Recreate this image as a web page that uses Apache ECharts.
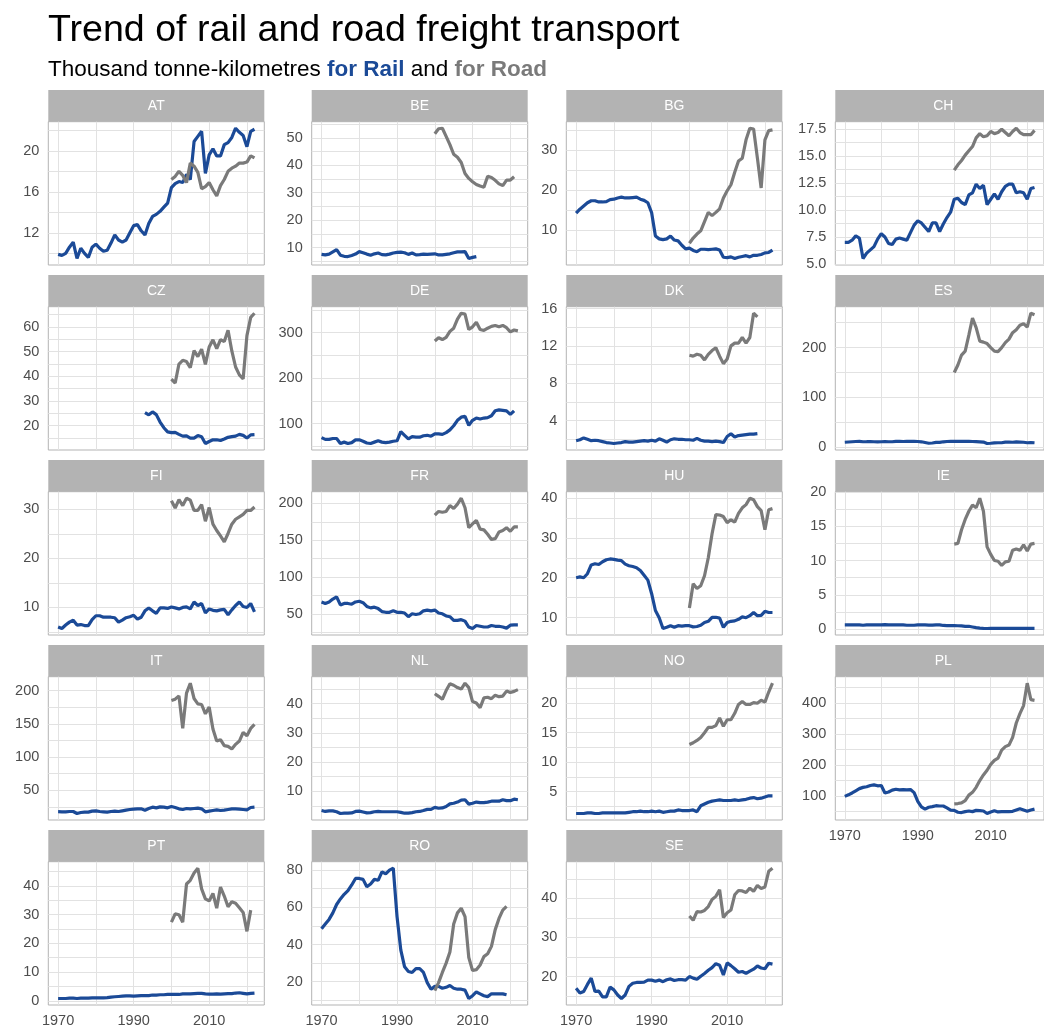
<!DOCTYPE html>
<html>
<head>
<meta charset="utf-8">
<script src="https://cdn.jsdelivr.net/npm/echarts@6/dist/echarts.min.js"></script>
<style>
  html, body { margin: 0; padding: 0; background: #fff; }
  #chart { width: 1044px; height: 1028px; }
</style>
</head>
<body>
<div id="chart"></div>
<script>
// country codes, in facet order
const countries = ["AT", "BE", "BG", "CH", "CZ", "DE", "DK", "ES", "FI", "FR",
  "HU", "IE", "IT", "NL", "NO", "PL", "PT", "RO", "SE"];

// first year of each series (rail from 1970 unless listed, road from 2000)
const railFirstYear = { CZ: 1993 };
const roadFirstYear = 2000;

// rail freight, thousand tonne-km (one value per year)
const railAT = [9.9, 9.8, 10.0, 10.6, 11.1, 9.5, 10.5, 10.0, 9.6, 10.6,
  10.9, 10.5, 10.2, 10.3, 11.0, 11.8, 11.3, 11.1, 11.3, 12.0,
  12.7, 12.8, 12.2, 11.8, 12.9, 13.6, 13.8, 14.1, 14.5, 14.9,
  16.4, 16.8, 17.0, 16.9, 17.7, 17.2, 20.9, 21.4, 21.9, 17.8,
  19.6, 20.2, 19.5, 19.5, 20.6, 20.8, 21.3, 22.2, 21.8, 21.5,
  20.4, 21.9, 22.1];
const railBE = [7.5, 7.3, 7.6, 8.4, 9.2, 7.2, 6.8, 6.7, 7.1, 7.6,
  8.5, 8.1, 7.6, 7.2, 7.7, 8.0, 7.4, 7.3, 7.6, 8.0,
  8.2, 8.3, 8.1, 7.5, 8.0, 7.3, 7.4, 7.6, 7.5, 7.6,
  7.7, 7.3, 7.3, 7.5, 7.7, 8.1, 8.4, 8.4, 8.5, 6.0,
  6.4, 6.7];
const railBG = [14.2, 15.2, 16.0, 16.8, 17.3, 17.3, 17.0, 17.0, 17.1, 17.6,
  17.7, 18.0, 18.2, 18.0, 18.0, 18.1, 18.2, 17.7, 17.4, 16.8,
  14.3, 8.5, 7.8, 7.6, 7.8, 8.5, 7.5, 7.3, 6.2, 5.3,
  5.5, 4.9, 4.6, 5.2, 5.2, 5.1, 5.2, 5.3, 5.0, 3.2,
  3.1, 3.3, 2.9, 3.2, 3.4, 3.6, 3.3, 3.7, 3.7, 3.9,
  4.3, 4.4, 5.0];
const railCH = [7.0, 7.0, 7.2, 7.6, 7.4, 5.5, 6.0, 6.3, 6.6, 7.3,
  7.8, 7.5, 6.9, 6.8, 7.3, 7.4, 7.3, 7.2, 7.9, 8.6,
  9.0, 8.8, 8.4, 8.0, 8.8, 8.8, 8.0, 8.7, 9.3, 9.8,
  11.0, 11.1, 10.7, 10.5, 11.4, 11.6, 12.4, 12.0, 12.3, 10.5,
  11.0, 11.5, 11.0, 11.7, 12.2, 12.4, 12.4, 11.6, 11.7, 11.6,
  11.0, 12.0, 12.1];
const railCZ = [25.3, 24.4, 25.6, 24.5, 21.5, 19.2, 17.5,
  17.2, 17.3, 16.5, 15.8, 15.9, 15.0, 15.0, 16.0, 15.5, 12.8,
  13.6, 14.3, 14.3, 14.0, 14.6, 15.3, 15.6, 15.8, 16.5, 16.1,
  15.0, 16.3, 16.4];
const railDE = [69, 65, 65, 67, 67, 56, 59, 56, 58, 64,
  64, 61, 57, 56, 59, 62, 59, 58, 59, 61,
  62, 82, 74, 66, 71, 70, 70, 73, 74, 72,
  77, 77, 76, 80, 86, 95, 107, 114, 116, 96,
  107, 112, 110, 112, 113, 117, 128, 130, 129, 128,
  120, 128];
const railDK = [1.85, 1.95, 2.15, 2.0, 1.85, 1.9, 1.85, 1.75, 1.65, 1.6,
  1.55, 1.6, 1.65, 1.75, 1.7, 1.7, 1.75, 1.8, 1.85, 1.8,
  1.9, 1.8, 2.05, 1.9, 1.7, 1.95, 2.05, 2.0, 2.0, 1.95,
  1.95, 1.9, 2.1, 1.9, 1.8, 1.8, 1.75, 1.8, 1.75, 1.65,
  2.3, 2.6, 2.25, 2.4, 2.45, 2.5, 2.55, 2.55, 2.6];
const railES = [10.0, 10.5, 11.0, 11.5, 11.7, 11.0, 11.2, 11.5, 11.0, 10.8,
  11.0, 11.5, 11.0, 11.0, 11.8, 11.9, 11.5, 11.8, 11.8, 11.8,
  11.5, 10.9, 9.5, 8.0, 8.5, 9.6, 9.6, 10.9, 11.5, 11.7,
  11.9, 12.0, 11.9, 12.0, 11.9, 11.5, 11.3, 10.8, 10.3, 7.5,
  8.0, 8.9, 9.0, 9.0, 10.3, 10.3, 10.0, 10.6, 10.4, 10.0,
  9.0, 9.5, 9.0];
const railFI = [6.0, 5.7, 6.4, 7.0, 7.4, 6.4, 6.5, 6.3, 6.3, 7.5,
  8.3, 8.3, 8.0, 8.0, 8.0, 7.9, 7.0, 7.4, 7.9, 8.1,
  8.4, 7.6, 8.0, 9.3, 9.9, 9.3, 8.8, 9.9, 9.9, 9.8,
  10.1, 9.9, 9.7, 10.0, 10.1, 9.7, 11.1, 10.4, 10.8, 8.9,
  9.7, 9.4, 9.3, 9.5, 9.6, 8.5, 9.5, 10.4, 11.1, 10.2,
  10.0, 10.8, 9.1];
const railFR = [66, 64, 66, 70, 73, 62, 64, 64, 63, 66,
  67, 65, 60, 58, 59, 57, 53, 52, 52, 54,
  52, 52, 51, 46, 50, 49, 50, 54, 55, 54,
  55, 51, 50, 47, 46, 41, 41, 42, 40, 32,
  30, 34, 33, 32, 32, 34, 33, 33, 32, 30.5,
  34.5, 35, 35];
const railHU = [20.0, 20.2, 20.0, 21.0, 23.2, 23.5, 23.3, 24.0, 24.5, 24.7,
  24.6, 24.4, 24.3, 23.4, 23.0, 22.8, 22.5, 21.8, 20.6, 19.4,
  16.0, 11.8, 10.0, 7.3, 7.6, 8.0, 7.6, 8.0, 7.9, 8.0,
  8.0, 7.7, 7.8, 8.1, 8.8, 9.1, 10.1, 10.1, 9.9, 7.6,
  8.8, 9.1, 9.2, 9.6, 10.2, 10.0, 10.5, 11.3, 10.5, 10.6,
  11.6, 11.3, 11.3];
const railIE = [0.6, 0.6, 0.6, 0.6, 0.6, 0.55, 0.6, 0.6, 0.6, 0.6,
  0.6, 0.65, 0.6, 0.6, 0.6, 0.6, 0.6, 0.55, 0.55, 0.55,
  0.6, 0.6, 0.6, 0.58, 0.57, 0.6, 0.6, 0.52, 0.5, 0.5,
  0.5, 0.48, 0.45, 0.4, 0.4, 0.3, 0.2, 0.13, 0.1, 0.08,
  0.1, 0.09, 0.09, 0.1, 0.1, 0.1, 0.1, 0.1, 0.1, 0.1,
  0.1, 0.1, 0.1];
const railIT = [17.7, 17.5, 17.5, 18.0, 18.0, 15.0, 16.5, 17.0, 17.0, 18.5,
  19.0, 18.0, 17.5, 17.0, 18.0, 18.5, 18.0, 19.0, 20.0, 21.0,
  21.5, 22.0, 22.0, 20.0, 22.5, 24.5, 23.5, 25.0, 24.5, 23.5,
  25.5, 24.0, 22.0, 21.0, 22.5, 22.0, 22.5, 23.0, 22.0, 17.5,
  18.5, 19.5, 20.5, 19.5, 20.0, 21.0, 22.0, 22.0, 21.5, 21.0,
  20.5, 24.0, 24.5];
const railNL = [3.4, 3.1, 3.3, 3.3, 3.0, 2.4, 2.5, 2.5, 2.6, 3.1,
  3.2, 2.9, 2.6, 2.7, 3.0, 3.1, 3.0, 3.0, 3.0, 3.0,
  3.0, 2.8, 2.5, 2.5, 2.7, 3.0, 3.1, 3.4, 3.8, 3.8,
  4.5, 4.2, 4.3, 4.8, 5.7, 5.9, 6.3, 7.0, 7.1, 5.6,
  5.9, 6.3, 6.1, 6.1, 6.3, 6.6, 6.6, 6.6, 7.1, 6.8,
  6.8, 7.3, 7.1];
const railNO = [1.3, 1.3, 1.3, 1.4, 1.4, 1.3, 1.3, 1.4, 1.4, 1.4,
  1.4, 1.4, 1.4, 1.4, 1.5, 1.6, 1.6, 1.7, 1.6, 1.6,
  1.7, 1.6, 1.7, 1.5, 1.6, 1.7, 1.7, 1.9, 1.8, 1.8,
  1.8, 1.9, 1.6, 2.6, 2.9, 3.2, 3.4, 3.5, 3.6, 3.5,
  3.5, 3.5, 3.6, 3.5, 3.6, 3.7, 3.9, 4.0, 3.8, 3.9,
  4.1, 4.3, 4.3];
const railPL = [99, 104, 110, 117, 124, 128, 130, 134, 136, 133,
  134, 110, 113, 119, 122, 120, 121, 120, 121, 111,
  83, 65, 58, 64, 66, 69, 68, 68, 62, 55,
  54, 48, 47, 50, 52, 50, 54, 53, 52, 44,
  49, 53, 49, 50, 50, 50, 51, 55, 59, 55,
  51, 55, 58];
const railPT = [0.8, 0.8, 0.8, 0.9, 0.9, 0.8, 0.9, 0.9, 0.9, 1.0,
  1.0, 1.0, 1.0, 1.1, 1.3, 1.4, 1.5, 1.6, 1.7, 1.7,
  1.6, 1.7, 1.8, 1.8, 1.8, 2.0, 2.0, 2.1, 2.1, 2.2,
  2.2, 2.2, 2.2, 2.4, 2.4, 2.4, 2.5, 2.6, 2.6, 2.4,
  2.3, 2.3, 2.4, 2.3, 2.4, 2.5, 2.5, 2.7, 2.8, 2.6,
  2.4, 2.6, 2.7];
const railRO = [48.5, 51, 53.5, 57, 61.5, 64.5, 67, 69, 72, 75.5,
  75.5, 75, 71, 72.5, 75, 74.5, 79, 78, 80, 81,
  55, 37, 28, 25.5, 25, 27, 27, 25, 19.5, 16,
  17.5, 17.5, 16.5, 17, 18, 16.5, 16, 16, 15.5, 11,
  12.5, 14.5, 13.5, 12.5, 12, 13.5, 13.5, 13.5, 13.5, 13];
const railSE = [17.0, 15.8, 16.2, 18.0, 19.6, 16.2, 16.3, 14.8, 14.8, 17.3,
  16.6, 15.3, 14.4, 15.3, 17.5, 18.3, 18.5, 18.5, 18.6, 19.1,
  19.1, 18.8, 19.1, 18.7, 19.2, 19.4, 19.0, 19.2, 19.2, 19.1,
  20.0, 19.6, 19.3, 20.1, 20.8, 21.6, 22.3, 23.3, 22.9, 20.4,
  23.5, 22.8, 22.0, 21.1, 21.3, 20.8, 21.4, 21.9, 22.7, 22.2,
  22.0, 23.4, 23.2];

// road freight, thousand tonne-km, from 2000
const roadAT = [17.2, 17.5, 18.0, 17.6, 16.9, 18.8, 18.5, 17.9, 16.3, 16.5,
  16.9, 16.2, 15.6, 16.6, 17.2, 18.0, 18.3, 18.5, 18.8, 18.8, 18.9, 19.5, 19.3];
const roadBE = [51.5, 53.3, 53.5, 50.5, 47.5, 44.0, 42.9, 41.0, 37.0, 35.2,
  34.0, 33.0, 32.4, 32.0, 36.0, 35.5, 34.5, 33.2, 32.6, 34.6, 34.6, 35.8];
const roadBG = [6.7, 8.0, 9.0, 9.8, 12.1, 14.4, 13.6, 14.4, 15.3, 18.0,
  19.8, 21.3, 24.4, 27.2, 27.9, 32.5, 35.4, 35.2, 28.0, 20.5, 32.5, 34.8, 35.0];
const roadCH = [13.7, 14.2, 14.6, 15.1, 15.5, 15.9, 16.7, 17.1, 16.8, 16.9,
  17.3, 17.1, 17.2, 17.5, 17.2, 16.9, 17.3, 17.6, 17.2, 17.0, 17.0, 17.0, 17.4];
const roadCZ = [38.9, 37.3, 45.0, 46.5, 46.0, 43.5, 50.4, 48.0, 51.0, 44.9,
  51.9, 54.8, 51.2, 54.9, 54.1, 58.7, 50.3, 43.8, 40.6, 39.0, 56.5, 63.9, 65.6];
const roadDE = [282, 289, 285, 290, 303, 310, 330, 343, 341, 307,
  313, 323, 307, 305, 310, 314, 316, 313, 316, 311, 302, 306, 304];
const roadDK = [11.0, 10.9, 11.1, 11.0, 10.5, 11.1, 11.5, 11.8, 10.9, 10.1,
  10.6, 12.0, 12.3, 12.3, 12.9, 12.3, 12.9, 15.5, 15.1];
const roadES = [150, 165, 185, 193, 225, 259, 240, 213, 211, 208,
  200, 193, 192, 200, 210, 217, 230, 236, 245, 248, 241, 269, 266];
const roadFI = [31.8, 30.3, 32.0, 30.8, 32.3, 31.9, 29.8, 29.8, 31.0, 27.6,
  30.4, 27.0, 25.7, 24.6, 23.4, 25.1, 27.0, 28.0, 28.5, 29.0, 29.8, 29.8, 30.5];
const roadFR = [184, 189, 188, 189, 197, 193, 199, 207, 194, 167,
  172, 177, 165, 164, 158, 151, 152, 161, 163, 167, 162, 168, 168];
const roadHU = [12.4, 18.5, 17.3, 18.0, 20.5, 25.0, 31.0, 35.8, 35.7, 35.3,
  33.8, 34.5, 33.9, 36.1, 37.5, 38.3, 39.9, 39.5, 37.8, 36.8, 32.0, 37.0, 37.3];
const roadIE = [12.4, 12.5, 14.5, 16.0, 17.2, 18.1, 17.7, 19.1, 17.2, 12.0,
  10.9, 10.0, 9.9, 9.3, 9.8, 9.9, 11.5, 11.7, 11.5, 12.3, 11.4, 12.4, 12.5];
const roadIT = [185, 187, 192, 143, 196, 211, 188, 180, 179, 165,
  175, 142, 124, 126, 117, 116, 112, 119, 124, 137, 132, 143, 149];
const roadNL = [43.4, 42.5, 41.5, 44.5, 46.8, 46.3, 45.5, 45.0, 47.0, 45.5,
  40.7, 40.2, 38.6, 42.0, 42.2, 41.7, 42.9, 42.4, 42.6, 44.3, 43.8, 44.2, 44.8];
const roadNO = [13.0, 13.3, 13.7, 14.2, 15.0, 15.9, 15.9, 16.2, 17.5, 16.1,
  17.2, 17.2, 18.3, 19.8, 20.3, 19.8, 19.8, 20.1, 20.0, 20.5, 20.2, 21.9, 23.4];
const roadPL = [75, 76, 78, 85, 103, 112, 128, 150, 168, 183,
  202, 215, 222, 248, 259, 264, 289, 335, 365, 391, 463, 410, 408];
const roadPT = [27.4, 30.3, 30.0, 27.4, 40.7, 42.0, 44.5, 46.2, 39.0, 35.5,
  34.8, 37.4, 32.3, 39.6, 36.5, 32.8, 34.5, 34.0, 32.4, 30.8, 24.2, 31.6];
const roadRO = [15.2, 19.5, 25, 30, 36, 51, 57, 59.5, 55, 33,
  26, 26.5, 29, 33.5, 35, 39, 48, 54, 58.5, 60.5];
const roadSE = [35.5, 34.4, 36.6, 36.5, 36.9, 37.9, 39.7, 40.5, 42.2, 35.1,
  36.3, 37.0, 40.9, 42.0, 41.9, 41.5, 42.6, 41.8, 43.3, 42.5, 42.9, 46.9, 47.7];

// y tick labels of each panel
const yTicks = {
  AT: [12, 16, 20], BE: [10, 20, 30, 40, 50], BG: [10, 20, 30],
  CH: [5, 7.5, 10, 12.5, 15, 17.5], CZ: [20, 30, 40, 50, 60], DE: [100, 200, 300],
  DK: [4, 8, 12, 16], ES: [0, 100, 200], FI: [10, 20, 30], FR: [50, 100, 150, 200],
  HU: [10, 20, 30, 40], IE: [0, 5, 10, 15, 20], IT: [50, 100, 150, 200],
  NL: [10, 20, 30, 40], NO: [5, 10, 15, 20], PL: [100, 200, 300, 400],
  PT: [0, 10, 20, 30, 40], RO: [20, 40, 60, 80], SE: [20, 30, 40]
};
// x tick labels (shared axis)
const xTicks = [1970, 1990, 2010];
const xMinorTicks = [1980, 2000, 2020];

const railData = { AT: railAT, BE: railBE, BG: railBG, CH: railCH, CZ: railCZ, DE: railDE,
  DK: railDK, ES: railES, FI: railFI, FR: railFR, HU: railHU, IE: railIE, IT: railIT,
  NL: railNL, NO: railNO, PL: railPL, PT: railPT, RO: railRO, SE: railSE };
const roadData = { AT: roadAT, BE: roadBE, BG: roadBG, CH: roadCH, CZ: roadCZ, DE: roadDE,
  DK: roadDK, ES: roadES, FI: roadFI, FR: roadFR, HU: roadHU, IE: roadIE, IT: roadIT,
  NL: roadNL, NO: roadNO, PL: roadPL, PT: roadPT, RO: roadRO, SE: roadSE };

const FONT = '"Liberation Sans", Arial, Helvetica, sans-serif';
const RAIL_COLOR = "#1B4A97";
const ROAD_COLOR = "#7A7A7A";
const GRID_COLOR = "#E2E2E2";
const STRIP_COLOR = "#B3B3B3";
const AXIS_TEXT = "#4D4D4D";

// panel layout (px)
const colLeft = [48.3, 311.7, 566.3, 835.3];
const rowTop = [90, 275, 460, 645, 830];
const panelW = 216;
const stripH = 31.7;
const plotH = 143.3;

// ggplot style 5% expansion
const xMin = 1970 - 0.05 * 52;
const xMax = 2022 + 0.05 * 52;

function toPoints(values, first) {
  return values.map((v, k) => [first + k, v]);
}

function minorBreaks(majors, lo, hi) {
  const step = majors[1] - majors[0];
  const out = [];
  for (let k = -1; k < majors.length; k++) {
    const m = majors[0] + step * (k + 0.5);
    if (m > lo && m < hi) out.push(m);
  }
  return out;
}

const option = {
  animation: false,
  backgroundColor: "#ffffff",
  textStyle: { fontFamily: FONT },
  grid: [],
  xAxis: [],
  yAxis: [],
  series: [],
  graphic: [
    {
      type: "text", left: 48, top: 12,
      style: { text: "Trend of rail and road freight transport", fill: "#000",
        fontSize: 37.6, fontFamily: FONT }
    },
    {
      type: "text", left: 48, top: 58,
      style: {
        text: "Thousand tonne-kilometres {rail|for Rail} and {road|for Road}",
        fill: "#000", fontSize: 22.5, fontFamily: FONT,
        rich: {
          rail: { fill: RAIL_COLOR, fontWeight: "bold", fontSize: 22.5, fontFamily: FONT },
          road: { fill: ROAD_COLOR, fontWeight: "bold", fontSize: 22.5, fontFamily: FONT }
        }
      }
    }
  ]
};

countries.forEach((code, i) => {
  const col = i % 4;
  const row = Math.floor(i / 4);
  const left = colLeft[col];
  const top = rowTop[row];
  const rail = railData[code];
  const road = roadData[code];
  const all = rail.concat(road);
  const lo = Math.min(...all);
  const hi = Math.max(...all);
  const yMin = lo - 0.05 * (hi - lo);
  const yMax = hi + 0.05 * (hi - lo);
  const majors = yTicks[code];
  const decimals = majors.some(v => v % 1 !== 0) ? 1 : 0;
  // bottom panel of each column gets the x labels
  const showX = i + 4 >= countries.length;

  option.grid.push({
    left: left, top: top + stripH, width: panelW, height: plotH,
    show: true, borderColor: STRIP_COLOR, borderWidth: 1, backgroundColor: "#fff"
  });

  option.xAxis.push({
    gridIndex: i, type: "value", min: xMin, max: xMax,
    axisLine: { show: false },
    axisTick: { show: false, customValues: xTicks.concat(xMinorTicks) },
    axisLabel: {
      show: showX, customValues: xTicks, color: AXIS_TEXT, fontSize: 14.5,
      fontFamily: FONT, margin: 8, formatter: v => String(v)
    },
    splitLine: { show: true, lineStyle: { color: GRID_COLOR, width: 1 } }
  });

  option.yAxis.push({
    gridIndex: i, type: "value", min: yMin, max: yMax,
    axisLine: { show: false },
    axisTick: { show: false, customValues: majors.concat(minorBreaks(majors, yMin, yMax)) },
    axisLabel: {
      customValues: majors, color: AXIS_TEXT, fontSize: 14.5, fontFamily: FONT, margin: 9,
      formatter: v => v.toFixed(decimals)
    },
    splitLine: { show: true, lineStyle: { color: GRID_COLOR, width: 1 } }
  });

  option.series.push({
    name: code + " rail", type: "line", xAxisIndex: i, yAxisIndex: i,
    data: toPoints(rail, railFirstYear[code] || 1970),
    showSymbol: false, symbol: "none", silent: true,
    lineStyle: { color: RAIL_COLOR, width: 3.2 }, itemStyle: { color: RAIL_COLOR }
  });
  option.series.push({
    name: code + " road", type: "line", xAxisIndex: i, yAxisIndex: i,
    data: toPoints(road, roadFirstYear),
    showSymbol: false, symbol: "none", silent: true,
    lineStyle: { color: ROAD_COLOR, width: 3.2 }, itemStyle: { color: ROAD_COLOR }
  });

  // facet strip
  option.graphic.push({
    type: "rect",
    shape: { x: left, y: top, width: panelW, height: stripH },
    style: { fill: STRIP_COLOR },
    textContent: { style: { text: code, fill: "#fff", fontSize: 14, fontFamily: FONT } },
    textConfig: { position: "inside" }
  });
});

const chart = echarts.init(document.getElementById("chart"), null, { renderer: "canvas" });
chart.setOption(option);
</script>
</body>
</html>
